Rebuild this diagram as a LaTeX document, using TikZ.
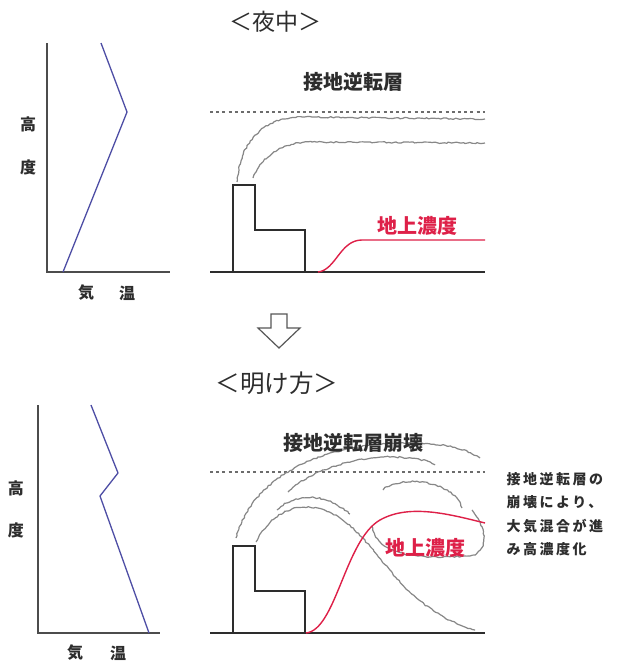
\documentclass[tikz,border=0pt]{standalone}
\usepackage{fontspec}
\setmainfont{Noto Sans CJK JP}
\newfontfamily\notefont{Noto Sans CJK JP}[LetterSpace=18]
\usetikzlibrary{decorations.pathmorphing}

\definecolor{tempblue}{RGB}{78,78,165}
\definecolor{concred}{RGB}{222,32,72}
\definecolor{smoke}{RGB}{135,135,135}
\definecolor{ink}{RGB}{45,45,45}

\tikzset{
  axis/.style={draw=ink!85,line width=1.8pt},
  profile/.style={draw=tempblue,line width=1.3pt},
  ground/.style={draw=ink,line width=1.8pt},
  lid/.style={draw=ink!70,line width=1.2pt,dash pattern=on 3pt off 3.2pt},
  plume/.style={draw=smoke,line width=1.2pt,line join=round,
    decorate,decoration={random steps,segment length=2.4pt,amplitude=0.7pt}},
  conc/.style={draw=concred,line width=1.4pt},
  title/.style={font=\fontsize{23}{26}\selectfont,text=ink},
  lbl/.style={font=\bfseries\fontsize{20}{23}\selectfont,text=ink},
  axlbl/.style={font=\bfseries\fontsize{16}{18}\selectfont,text=ink},
}

\begin{document}
\begin{tikzpicture}[x=1pt,y=-1pt]
\useasboundingbox[fill=white] (0,0) rectangle (618,664);

% --- night ---
\node[title] (night) at (275,22) {＜夜中＞};

\draw[axis] (47,43) -- (47,272) -- (170,272);
\draw[profile] (101,43) -- (127,112) -- (63,272);
\node[axlbl] (hA) at (28,124) {高};
\node[axlbl] (dA) at (28,167) {度};
\node[axlbl] (kA) at (86,293) {気};
\node[axlbl] (oA) at (127,293) {温};

\draw[lid] (210,112) -- (485,112);
\node[lbl] (inv) at (353,82) {接地逆転層};
\draw[plume] (237,182) .. controls (240,140) and (265,117) .. (302,117) -- (485,119);
\draw[plume] (253,178) .. controls (262,156) and (282,142) .. (312,142) -- (485,143);
\draw[ground] (233,272) -- (233,185) -- (255,185) -- (255,230) -- (305,230) -- (305,272);
\draw[ground] (210,272) -- (485,272);
\draw[conc] (318,272) .. controls (336,270) and (340,240) .. (362,240) -- (485,240);
\node[lbl,text=concred] (concA) at (417,226) {地上濃度};

% --- arrow ---
\draw[draw=ink!80,line width=1.2pt,line join=miter]
  (271,314) -- (287,314) -- (287,328) -- (300,328) -- (279,348)
  -- (258,328) -- (271,328) -- cycle;

% --- dawn ---
\node[title,font=\fontsize{24.5}{28}\selectfont] (dawn) at (277,383) {＜明け方＞};

\draw[axis] (38,405) -- (38,633) -- (160,633);
\draw[profile] (91,405) -- (118,473) -- (100,496) -- (149,633);
\node[axlbl] (hB) at (16,488) {高};
\node[axlbl] (dB) at (16,530) {度};
\node[axlbl] (kB) at (75,653) {気};
\node[axlbl] (oB) at (118,653) {温};

\draw[lid] (210,472) -- (485,472);
\draw[plume] (236,538) .. controls (255,470) and (330,445) .. (400,443)
  .. controls (440,442) and (465,448) .. (480,458);
\draw[plume] (288,492) .. controls (310,470) and (360,455) .. (395,457)
  .. controls (415,458) and (428,460) .. (435,465);
\draw[plume] (277,510) .. controls (292,495) and (322,490) .. (350,514);
\draw[plume] (256,542) .. controls (275,505) and (310,498) .. (340,518)
  .. controls (378,542) and (400,608) .. (475,630);
\draw[plume] (383,490) .. controls (398,476) and (452,478) .. (462,508);
\draw[plume] (372,526) .. controls (378,560) and (430,558) .. (470,556)
  .. controls (488,552) and (488,530) .. (472,510);
\node[lbl] (collapse) at (353,443) {接地逆転層崩壊};
\draw[ground] (233,633) -- (233,546) -- (255,546) -- (255,591) -- (305,591) -- (305,633);
\draw[ground] (210,633) -- (485,633);
\draw[conc] (306,633) .. controls (336,630) and (345,540) .. (380,520)
  .. controls (410,503) and (452,515) .. (485,523);
\node[lbl,text=concred] (concB) at (425,548) {地上濃度};

\node[anchor=west,align=left,text=ink,
  font=\notefont\bfseries\fontsize{14}{23.5}\selectfont] (note) at (503,514)
  {接地逆転層の\\崩壊により、\\大気混合が進\\み高濃度化};
\end{tikzpicture}
\end{document}
